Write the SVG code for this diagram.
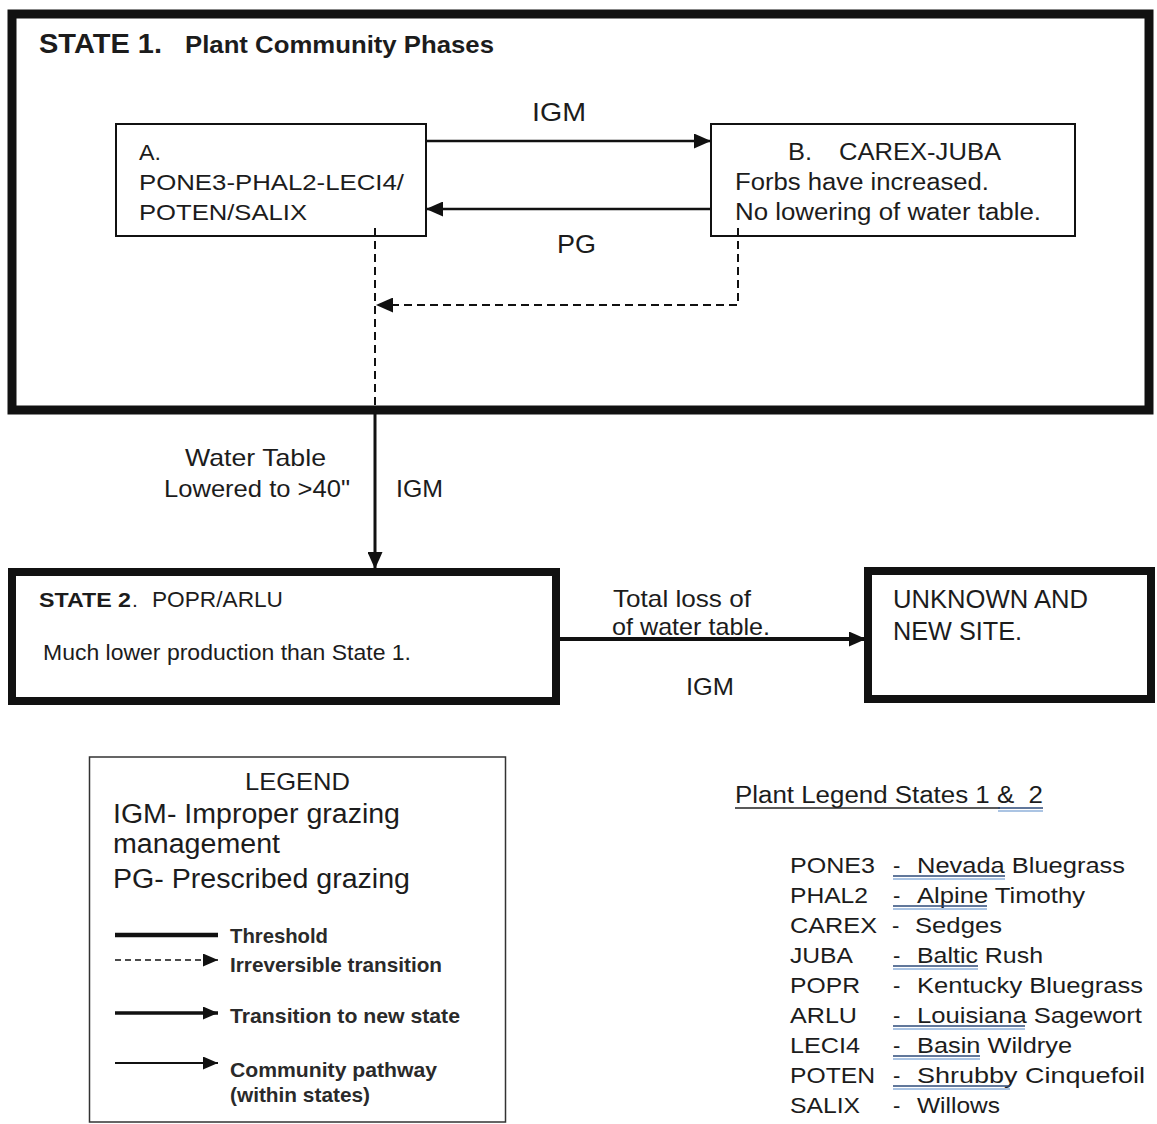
<svg xmlns="http://www.w3.org/2000/svg" width="1157" height="1124" viewBox="0 0 1157 1124">
<defs>
<style>
.t{font-family:"Liberation Sans",Arial,sans-serif;fill:#1c1c1c}
.b{font-weight:bold}
.lg{font-weight:bold;fill:#2a2a2a}
.box{fill:#fff;stroke:#111}
.ln{stroke:#111;fill:none}
.dash{stroke-dasharray:8 5}
.ul1{stroke:#2c4a78;stroke-width:1.6}
.ul2{stroke:#8fb1da;stroke-width:1.6}
</style>
<marker id="ah" markerUnits="userSpaceOnUse" markerWidth="17" markerHeight="15" refX="17" refY="7.5" orient="auto">
<path d="M0,0 L17,7.5 L0,15 z" fill="#111"/>
</marker>
<marker id="ahs" markerUnits="userSpaceOnUse" markerWidth="15" markerHeight="13" refX="15" refY="6.5" orient="auto">
<path d="M0,0 L15,6.5 L0,13 z" fill="#111"/>
</marker>
</defs>
<rect width="1157" height="1124" fill="#fff"/>

<g id="state1">
<rect class="box" x="12" y="14" width="1137" height="396" stroke-width="9"/>
<text class="t b" x="39" y="53" font-size="27" textLength="123" lengthAdjust="spacingAndGlyphs">STATE 1.</text>
<text class="t b" x="185" y="53" font-size="24" textLength="309" lengthAdjust="spacingAndGlyphs">Plant Community Phases</text>
</g>

<g id="phaseA">
<rect class="box" x="116" y="124" width="310" height="112" stroke-width="2"/>
<text class="t" x="139" y="160" font-size="22" textLength="22" lengthAdjust="spacingAndGlyphs">A.</text>
<text class="t" x="139" y="190" font-size="22" textLength="265" lengthAdjust="spacingAndGlyphs">PONE3-PHAL2-LECI4/</text>
<text class="t" x="139" y="220" font-size="22" textLength="168" lengthAdjust="spacingAndGlyphs">POTEN/SALIX</text>
</g>

<g id="phaseB">
<rect class="box" x="711" y="124" width="364" height="112" stroke-width="2"/>
<text class="t" x="788" y="160" font-size="23" textLength="24" lengthAdjust="spacingAndGlyphs">B.</text>
<text class="t" x="839" y="160" font-size="23" textLength="162" lengthAdjust="spacingAndGlyphs">CAREX-JUBA</text>
<text class="t" x="735" y="190" font-size="23" textLength="254" lengthAdjust="spacingAndGlyphs">Forbs have increased.</text>
<text class="t" x="735" y="220" font-size="23" textLength="306" lengthAdjust="spacingAndGlyphs">No lowering of water table.</text>
</g>

<g id="state2">
<rect class="box" x="12" y="572" width="544" height="129" stroke-width="8"/>
<text class="t b" x="39" y="607" font-size="21" textLength="92" lengthAdjust="spacingAndGlyphs">STATE 2</text>
<text class="t" x="132" y="607" font-size="21">.</text>
<text class="t" x="152" y="607" font-size="22" textLength="131" lengthAdjust="spacingAndGlyphs">POPR/ARLU</text>
<text class="t" x="43" y="660" font-size="22" textLength="368" lengthAdjust="spacingAndGlyphs">Much lower production than State 1.</text>
</g>

<g id="unknown">
<rect class="box" x="868" y="571" width="283" height="128" stroke-width="8"/>
<text class="t" x="893" y="608" font-size="25" textLength="195" lengthAdjust="spacingAndGlyphs">UNKNOWN AND</text>
<text class="t" x="893" y="640" font-size="25" textLength="129" lengthAdjust="spacingAndGlyphs">NEW SITE.</text>
</g>

<g id="connectors">
<line class="ln" x1="426" y1="141" x2="711" y2="141" stroke-width="2.5" marker-end="url(#ah)"/>
<line class="ln" x1="711" y1="209" x2="426" y2="209" stroke-width="2.5" marker-end="url(#ah)"/>
<path class="ln dash" d="M738,228 V305 H376" stroke-width="2" marker-end="url(#ah)"/>
<path class="ln dash" d="M375,228 V410" stroke-width="2"/>
<path class="ln" d="M375,410 V569" stroke-width="3" marker-end="url(#ah)"/>
<path class="ln" d="M556,639 H866" stroke-width="4" marker-end="url(#ah)"/>
<text class="t" x="532" y="121" font-size="26" textLength="54" lengthAdjust="spacingAndGlyphs">IGM</text>
<text class="t" x="557" y="253" font-size="26" textLength="39" lengthAdjust="spacingAndGlyphs">PG</text>
<text class="t" x="185" y="466" font-size="24" textLength="141" lengthAdjust="spacingAndGlyphs">Water Table</text>
<text class="t" x="164" y="497" font-size="24" textLength="186" lengthAdjust="spacingAndGlyphs">Lowered to &gt;40"</text>
<text class="t" x="396" y="497" font-size="24" textLength="47" lengthAdjust="spacingAndGlyphs">IGM</text>
<text class="t" x="613" y="607" font-size="24" textLength="138" lengthAdjust="spacingAndGlyphs">Total loss of</text>
<text class="t" x="612" y="635" font-size="24" textLength="158" lengthAdjust="spacingAndGlyphs">of water table.</text>
<text class="t" x="686" y="695" font-size="24" textLength="48" lengthAdjust="spacingAndGlyphs">IGM</text>
</g>

<g id="legend">
<rect x="89.5" y="757" width="416" height="365" fill="#fff" stroke="#333" stroke-width="1.5"/>
<text class="t" x="245" y="790" font-size="24" textLength="105" lengthAdjust="spacingAndGlyphs">LEGEND</text>
<text class="t" x="113" y="823" font-size="27" textLength="287" lengthAdjust="spacingAndGlyphs">IGM- Improper grazing</text>
<text class="t" x="113" y="853" font-size="27" textLength="167" lengthAdjust="spacingAndGlyphs">management</text>
<text class="t" x="113" y="888" font-size="27" textLength="297" lengthAdjust="spacingAndGlyphs">PG- Prescribed grazing</text>
<line class="ln" x1="115" y1="935" x2="218" y2="935" stroke-width="4.5"/>
<line class="ln" x1="115" y1="960" x2="218" y2="960" stroke-width="1.5" stroke-dasharray="6 4" marker-end="url(#ahs)"/>
<line class="ln" x1="115" y1="1013" x2="218" y2="1013" stroke-width="3.5" marker-end="url(#ahs)"/>
<line class="ln" x1="115" y1="1063" x2="218" y2="1063" stroke-width="1.8" marker-end="url(#ahs)"/>
<text class="t lg" x="230" y="943" font-size="21" textLength="98" lengthAdjust="spacingAndGlyphs">Threshold</text>
<text class="t lg" x="230" y="972" font-size="21" textLength="212" lengthAdjust="spacingAndGlyphs">Irreversible transition</text>
<text class="t lg" x="230" y="1023" font-size="21" textLength="230" lengthAdjust="spacingAndGlyphs">Transition to new state</text>
<text class="t lg" x="230" y="1077" font-size="21" textLength="207" lengthAdjust="spacingAndGlyphs">Community pathway</text>
<text class="t lg" x="230" y="1102" font-size="21" textLength="140" lengthAdjust="spacingAndGlyphs">(within states)</text>
</g>

<g id="plant-legend">
<text class="t" x="735" y="803" font-size="23" textLength="308" lengthAdjust="spacingAndGlyphs">Plant Legend States 1 &amp;&#160; 2</text>
<line x1="735" y1="808" x2="1000" y2="808" stroke="#222" stroke-width="1.5"/>
<line class="ul1" x1="998" y1="808" x2="1043" y2="808"/>
<line class="ul2" x1="998" y1="811" x2="1043" y2="811"/>
<g font-size="22">
<text class="t" x="790" y="873" textLength="85" lengthAdjust="spacingAndGlyphs">PONE3</text>
<text class="t" x="893" y="873">-</text>
<text class="t" x="917" y="873" textLength="208" lengthAdjust="spacingAndGlyphs">Nevada Bluegrass</text>
<text class="t" x="790" y="903" textLength="78" lengthAdjust="spacingAndGlyphs">PHAL2</text>
<text class="t" x="893" y="903">-</text>
<text class="t" x="917" y="903" textLength="168" lengthAdjust="spacingAndGlyphs">Alpine Timothy</text>
<text class="t" x="790" y="933" textLength="87" lengthAdjust="spacingAndGlyphs">CAREX</text>
<text class="t" x="892" y="933">-</text>
<text class="t" x="915" y="933" textLength="87" lengthAdjust="spacingAndGlyphs">Sedges</text>
<text class="t" x="790" y="963" textLength="63" lengthAdjust="spacingAndGlyphs">JUBA</text>
<text class="t" x="893" y="963">-</text>
<text class="t" x="917" y="963" textLength="126" lengthAdjust="spacingAndGlyphs">Baltic Rush</text>
<text class="t" x="790" y="993" textLength="70" lengthAdjust="spacingAndGlyphs">POPR</text>
<text class="t" x="893" y="993">-</text>
<text class="t" x="917" y="993" textLength="226" lengthAdjust="spacingAndGlyphs">Kentucky Bluegrass</text>
<text class="t" x="790" y="1023" textLength="67" lengthAdjust="spacingAndGlyphs">ARLU</text>
<text class="t" x="893" y="1023">-</text>
<text class="t" x="917" y="1023" textLength="225" lengthAdjust="spacingAndGlyphs">Louisiana Sagewort</text>
<text class="t" x="790" y="1053" textLength="70" lengthAdjust="spacingAndGlyphs">LECI4</text>
<text class="t" x="893" y="1053">-</text>
<text class="t" x="917" y="1053" textLength="155" lengthAdjust="spacingAndGlyphs">Basin Wildrye</text>
<text class="t" x="790" y="1083" textLength="85" lengthAdjust="spacingAndGlyphs">POTEN</text>
<text class="t" x="893" y="1083">-</text>
<text class="t" x="917" y="1083" textLength="228" lengthAdjust="spacingAndGlyphs">Shrubby Cinquefoil</text>
<text class="t" x="790" y="1113" textLength="70" lengthAdjust="spacingAndGlyphs">SALIX</text>
<text class="t" x="893" y="1113">-</text>
<text class="t" x="917" y="1113" textLength="83" lengthAdjust="spacingAndGlyphs">Willows</text>
</g>
<g>
<line class="ul1" x1="893" y1="876" x2="1005" y2="876"/><line class="ul2" x1="893" y1="879" x2="1005" y2="879"/>
<line class="ul1" x1="893" y1="906" x2="987" y2="906"/><line class="ul2" x1="893" y1="909" x2="987" y2="909"/>
<line class="ul1" x1="893" y1="966" x2="978" y2="966"/><line class="ul2" x1="893" y1="969" x2="978" y2="969"/>
<line class="ul1" x1="893" y1="1026" x2="1025" y2="1026"/><line class="ul2" x1="893" y1="1029" x2="1025" y2="1029"/>
<line class="ul1" x1="893" y1="1056" x2="980" y2="1056"/><line class="ul2" x1="893" y1="1059" x2="980" y2="1059"/>
<line class="ul1" x1="893" y1="1086" x2="1010" y2="1086"/><line class="ul2" x1="893" y1="1089" x2="1010" y2="1089"/>
</g>
</g>
</svg>
